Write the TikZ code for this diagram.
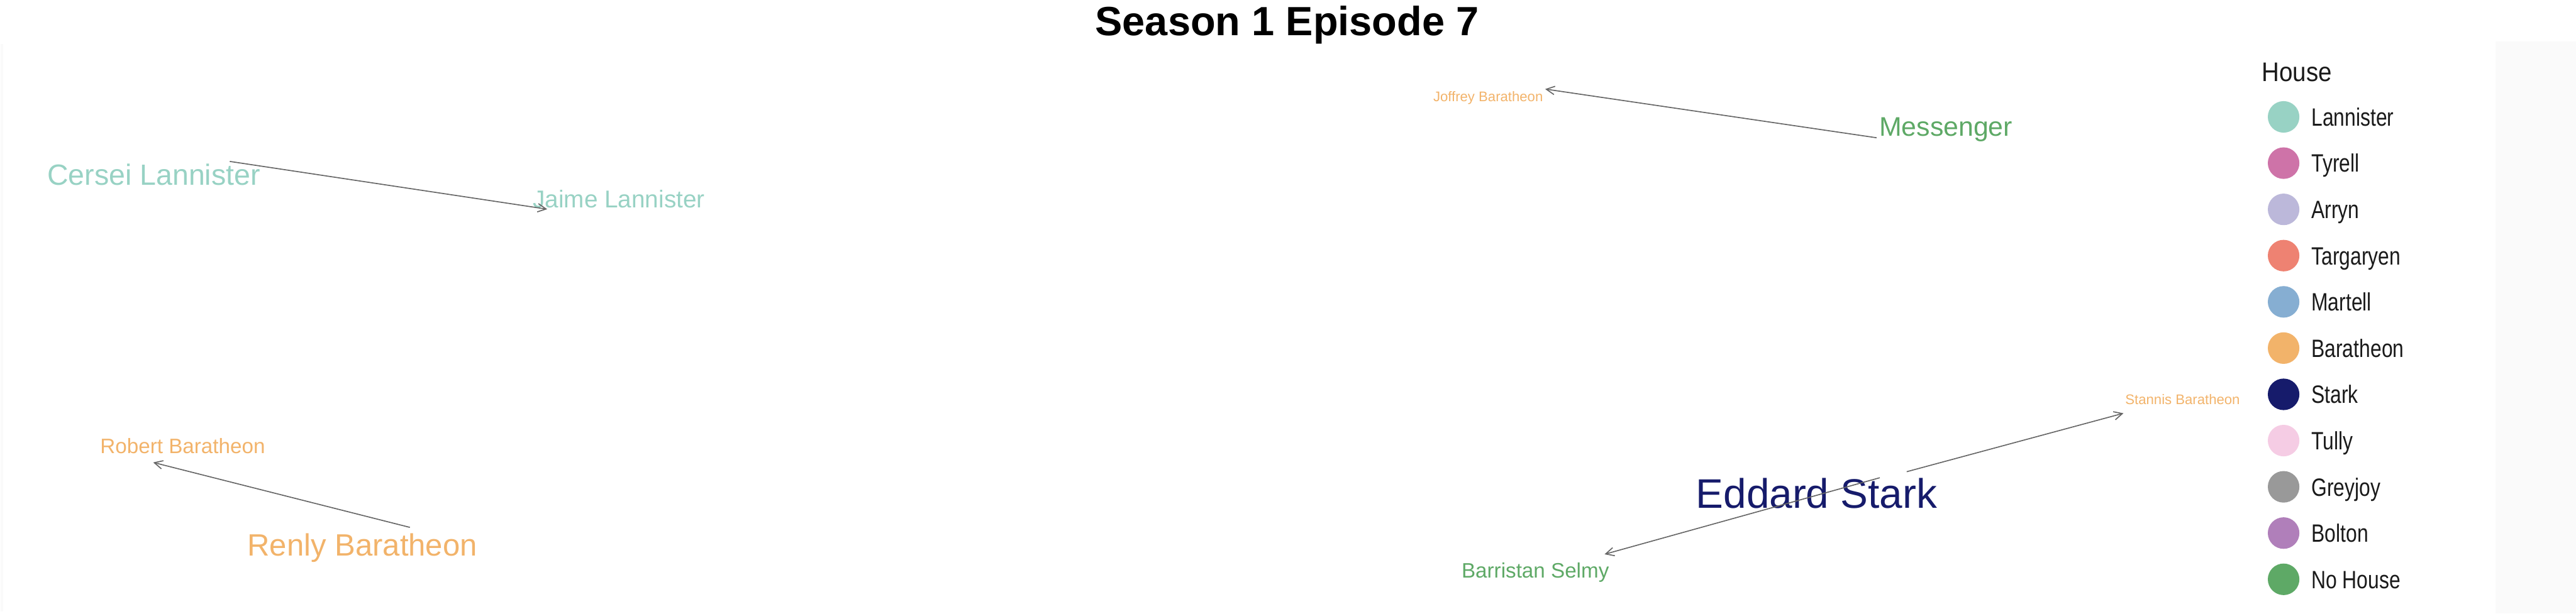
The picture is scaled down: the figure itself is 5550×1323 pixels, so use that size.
\documentclass[tikz,border=0pt]{standalone}
\usepackage{fontspec}
\setmainfont{Liberation Sans}
\usetikzlibrary{arrows.meta}
\definecolor{lannister}{HTML}{98D2C4}
\definecolor{tyrell}{HTML}{CE73A8}
\definecolor{arryn}{HTML}{BCB8DA}
\definecolor{targaryen}{HTML}{EE8272}
\definecolor{martell}{HTML}{86AED2}
\definecolor{baratheon}{HTML}{F2B36A}
\definecolor{stark}{HTML}{161B6B}
\definecolor{tully}{HTML}{F5CCE4}
\definecolor{greyjoy}{HTML}{999999}
\definecolor{bolton}{HTML}{B07FBA}
\definecolor{nohouse}{HTML}{5EA966}
\definecolor{edgegray}{HTML}{666666}
\definecolor{legendtext}{HTML}{1A1A1A}
\definecolor{panelgray}{HTML}{FAFAFA}
\newcommand\myfs[1]{\fontsize{#1}{#1}\selectfont}
\tikzset{
  lbl/.style={anchor=base west, inner sep=0pt, outer sep=0pt},
  link/.style={draw=edgegray, line width=0.45pt,
    -{Straight Barb[length=3.6pt,width=3.6pt,line width=0.45pt]}},
  legdot/.style={circle, fill=#1, minimum size=13.6pt, inner sep=0pt},
  legtxt/.style={anchor=base west, inner sep=0pt, text=legendtext},
}
\begin{document}
\begin{tikzpicture}[x=0.2pt,y=-0.2pt]
\useasboundingbox (0,0) rectangle (5550,1323);
% faint panels
\fill[panelgray] (5376,90) rectangle (5550,1323);
\fill[panelgray] (1,95) rectangle (7,1318);
% title
\node[anchor=base, inner sep=0pt] (title) at (2773,76) {\myfs{17.6}\bfseries Season 1 Episode 7};
% character nodes
\node[lbl, text=lannister] (cersei) at (102,399) {\myfs{12.6}Cersei Lannister};
\node[lbl, text=lannister] (jaime) at (1148,448) {\myfs{10.5}Jaime Lannister};
\node[lbl, text=baratheon] (joffrey) at (3088,219) {\myfs{6}Joffrey Baratheon};
\node[lbl, text=nohouse] (messenger) at (4049,293) {\myfs{11.6}Messenger};
\node[lbl, text=baratheon] (robert) at (216,977) {\myfs{9}Robert Baratheon};
\node[lbl, text=baratheon] (renly) at (533,1198) {\myfs{13.3}Renly Baratheon};
\node[lbl, text=stark] (eddard) at (3654,1096) {\myfs{17.8}Eddard Stark};
\node[lbl, text=baratheon] (stannis) at (4579,872) {\myfs{6}Stannis Baratheon};
\node[lbl, text=nohouse] (barristan) at (3149,1246) {\myfs{9}Barristan Selmy};
% edge end points
\coordinate (cersei-out) at (495,348);
\coordinate (jaime-in) at (1179,451);
\coordinate (messenger-out) at (4043,297);
\coordinate (joffrey-in) at (3329,192);
\coordinate (renly-out) at (883,1137);
\coordinate (robert-in) at (330,997);
\coordinate (eddard-out1) at (4050,1030);
\coordinate (barristan-in) at (3457,1195);
\coordinate (eddard-out2) at (4108,1017);
\coordinate (stannis-in) at (4575,891);
% edges
\draw[link] (cersei-out) -- (jaime-in);
\draw[link] (messenger-out) -- (joffrey-in);
\draw[link] (renly-out) -- (robert-in);
\draw[link] (eddard-out1) -- (barristan-in);
\draw[link] (eddard-out2) -- (stannis-in);
% legend
\node[legtxt] (legtitle) at (4872,176) {\myfs{11.6}\scalebox{0.9}[1]{House}};
\foreach \i/\c/\t in {0/lannister/Lannister,1/tyrell/Tyrell,2/arryn/Arryn,3/targaryen/Targaryen,4/martell/Martell,5/baratheon/Baratheon,6/stark/Stark,7/tully/Tully,8/greyjoy/Greyjoy,9/bolton/Bolton,10/nohouse/No House}{
  \node[legdot=\c] (legdot-\i) at (4920,{252+99.7*\i}) {};
  \node[legtxt] (legtext-\i) at (4979,{271.5+99.7*\i}) {\myfs{10.8}\scalebox{0.8}[1]{\t}};
}
\end{tikzpicture}
\end{document}
